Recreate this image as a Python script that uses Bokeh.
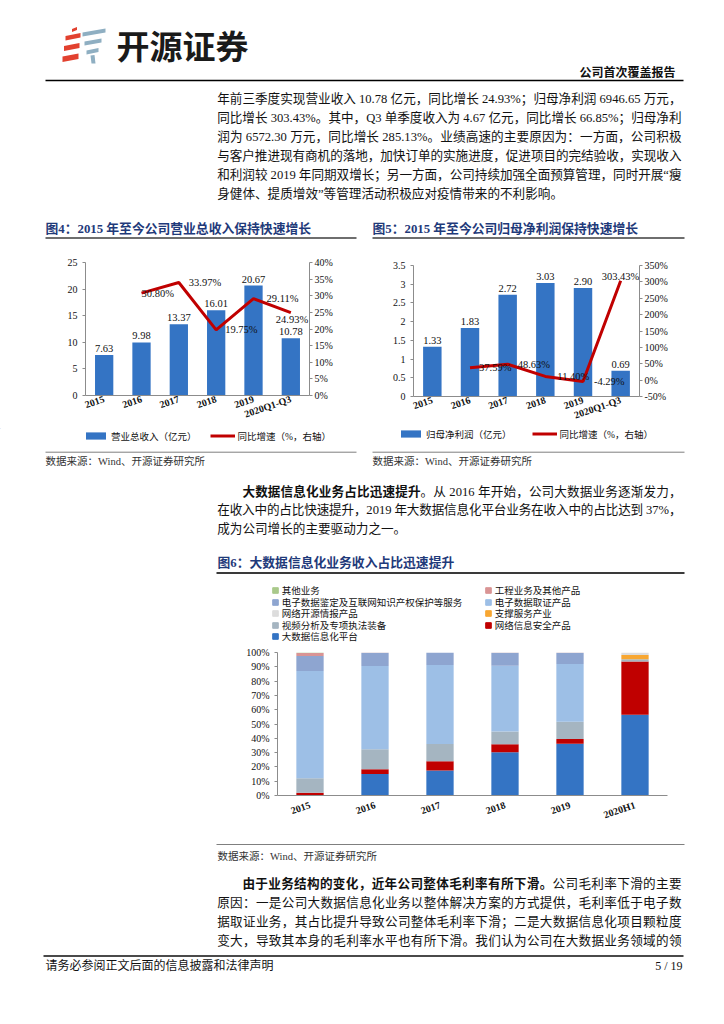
from bokeh.plotting import figure
from bokeh.models import (Range1d, FactorRange, LinearAxis, ColumnDataSource, LabelSet,
                          Legend, LegendItem, FixedTicker, PrintfTickFormatter)
from bokeh.layouts import column, row
from bokeh.embed import file_html
from bokeh.resources import INLINE
from bokeh.core.properties import value

# ================= DATA =================
years_a = ["2015", "2016", "2017", "2018", "2019", "2020Q1-Q3"]
revenue = [7.63, 9.98, 13.37, 16.01, 20.67, 10.78]          # 亿元
revenue_yoy = [30.80, 33.97, 19.75, 29.11, 24.93]           # %, 2016 onwards
profit = [1.33, 1.83, 2.72, 3.03, 2.90, 0.69]               # 亿元
profit_yoy = [37.59, 48.63, 11.40, -4.29, 303.43]           # %, 2016 onwards

rev_left_ticks = [0, 5, 10, 15, 20, 25]
rev_right_ticks = [0, 5, 10, 15, 20, 25, 30, 35, 40]
prof_left_ticks = [0, 0.5, 1, 1.5, 2, 2.5, 3, 3.5]
prof_left_labels = ["0", "0.5", "1", "1.5", "2", "2.5", "3", "3.5"]
prof_right_ticks = [-50, 0, 50, 100, 150, 200, 250, 300, 350]

years_b = ["2015", "2016", "2017", "2018", "2019", "2020H1"]
seg_names = ["大数据信息化平台", "网络信息安全产品", "视频分析及专项执法装备", "支撑服务产业",
             "网络开源情报产品", "电子数据取证产品", "电子数据鉴定及互联网知识产权保护等服务",
             "工程业务及其他产品", "其他业务"]            # stacked bottom -> top
seg_big_data = [0.0, 15.1, 17.4, 30.2, 36.2, 56.5]
seg_security = [2.0, 3.3, 6.6, 5.6, 3.3, 37.2]
seg_video = [10.0, 13.9, 12.0, 8.9, 12.1, 1.5]
seg_support = [0.0, 0.0, 0.0, 0.0, 0.0, 3.0]
seg_osint = [0.0, 0.0, 0.0, 0.0, 0.0, 1.8]
seg_forensic = [75.1, 58.2, 55.2, 46.0, 40.4, 0.0]
seg_appraisal = [10.5, 9.3, 8.8, 9.1, 7.8, 0.0]
seg_engineering = [2.0, 0.2, 0.0, 0.2, 0.2, 0.0]
seg_other = [0.4, 0.0, 0.0, 0.0, 0.0, 0.0]
seg_values = [seg_big_data, seg_security, seg_video, seg_support, seg_osint,
              seg_forensic, seg_appraisal, seg_engineering, seg_other]
share_ticks = [0, 10, 20, 30, 40, 50, 60, 70, 80, 90, 100]

# ================= STYLE =================
FONT = "Liberation Serif, Noto Sans CJK SC"
SERIF = "Liberation Serif"
BLUE = "#3474C4"
RED = "#C00000"
AXIS = "#8C8C8C"
INK = "#111111"
NAVY = "#1F3A7A"
seg_colors = ["#3474C4", "#C00000", "#A5B5C1", "#F8A732", "#DDDDDD",
              "#9DBFE6", "#8EA5D0", "#D99494", "#A9C98B"]

PAGE_W = 724
BODY = 12.6
LX0, LX1 = 216.7, 681.0

LATIN_W = {' ': .25, '.': .25, '%': .833, 'Q': .722, 'W': .944, 'i': .278, 'n': .5,
           'd': .5, '-': .333, '/': .278, '\u201c': .444, '\u201d': .444}


def is_latin(c):
    return ord(c) < 0x2E80


def tokens(segs, f):
    out = []
    for text, bold in segs:
        run = ""
        for c in text:
            if is_latin(c) and c != " ":
                run += c
                continue
            if run:
                out.append((run, bold, sum(LATIN_W.get(ch, .5) for ch in run) * f, True))
                run = ""
            if c == " ":
                out.append((" ", bold, .25 * f, False))
            else:
                out.append((c, bold, f, True))
        if run:
            out.append((run, bold, sum(LATIN_W.get(ch, .5) for ch in run) * f, True))
    return out


def place(segs, x0, x1, y, f=BODY, just=True):
    toks = tokens(segs, f)
    nat = sum(t[2] for t in toks)
    extra = (x1 - x0 - nat) / (len(toks) - 1) if just and len(toks) > 1 else 0
    x = x0
    res = []
    for txt, bold, w, draw in toks:
        if draw:
            res.append((x, y, txt, bold))
        x += w + extra
    return res


def no_align(p):
    if "frame_align" in p.properties():
        p.frame_align = False
    return p


def draw_text(p, items, size, color=INK):
    for b in (False, True):
        sel = [it for it in items if it[3] == b]
        if sel:
            p.text(x=[s[0] for s in sel], y=[s[1] for s in sel], text=[s[2] for s in sel],
                   text_font=value(FONT), text_font_size=size, text_color=color,
                   text_align="left", text_baseline="middle",
                   text_font_style="bold" if b else "normal")


def textfig(y0, y1):
    p = figure(width=PAGE_W, height=int(round(y1 - y0)), x_range=Range1d(0, PAGE_W),
               y_range=Range1d(y1, y0), x_axis_type=None, y_axis_type=None,
               toolbar_location=None, output_backend="svg", min_border=0)
    p.outline_line_color = None
    return no_align(p)


def label(p, x, y, s, size, color=INK, align="left", bold=False, font=FONT):
    p.text(x=[x], y=[y], text=[s], text_font=value(font), text_font_size=size,
           text_color=color, text_align=align, text_baseline="middle",
           text_font_style="bold" if bold else "normal")


def style_axis(ax, tick_out=3, standoff=5, bold=False):
    ax.axis_line_color = AXIS
    ax.major_tick_line_color = AXIS if tick_out else None
    ax.minor_tick_line_color = None
    ax.major_tick_in = 0
    ax.major_tick_out = tick_out
    ax.major_label_standoff = standoff
    ax.major_label_text_font = SERIF
    ax.major_label_text_font_size = "10px"
    ax.major_label_text_color = INK
    ax.major_label_text_font_style = "bold" if bold else "normal"


def make_legend(items, loc, orientation, gw, gh, lh, standoff, spacing):
    return Legend(items=items, orientation=orientation, location=loc, glyph_width=gw,
                  glyph_height=gh, label_height=lh, label_width=10, label_standoff=standoff,
                  spacing=spacing, padding=0, margin=0, border_line_color=None,
                  background_fill_alpha=0, label_text_font=FONT,
                  label_text_font_size="9.5px", label_text_color=INK)


# ================= BLOCK A: header + paragraph + fig titles (y 0..245) =================
pA = textfig(0, 245)
pA.patches(
    xs=[[65, 80, 80, 65], [63.5, 79, 79, 63.5], [62, 78, 78, 62], [71.5, 76.5, 76.5, 71.5],
        [82, 105, 105, 82], [84, 101, 101, 84], [86, 98, 98, 86], [90, 94, 95, 91]],
    ys=[[35.5, 32.5, 37, 40], [45.5, 42.5, 47.5, 50.5], [56, 53, 58.5, 61.5], [28.5, 26.5, 29.5, 31.5],
        [32, 28, 32, 36], [41, 38, 42, 45], [50, 47.5, 51.5, 54], [55, 54.5, 63, 63]],
    fill_color=["#E2412F"] * 4 + ["#8FAFC2"] * 4, line_color=None)
label(pA, 116, 44, "开源证券", "33px", color="#1A1A1A", bold=True, font="Noto Sans CJK SC")
label(pA, 675, 72.5, "公司首次覆盖报告", "12px", align="right", bold=True)
pA.segment(x0=[45], y0=[80], x1=[683], y1=[80], line_color="#000000", line_width=1.5)

para1 = [
    "年前三季度实现营业收入 10.78 亿元，同比增长 24.93%；归母净利润 6946.65 万元，",
    "同比增长 303.43%。其中，Q3 单季度收入为 4.67 亿元，同比增长 66.85%；归母净利",
    "润为 6572.30 万元，同比增长 285.13%。业绩高速的主要原因为：一方面，公司积极",
    "与客户推进现有商机的落地，加快订单的实施进度，促进项目的完结验收，实现收入",
    "和利润较 2019 年同期双增长；另一方面，公司持续加强全面预算管理，同时开展\u201c瘦",
    "身健体、提质增效\u201d等管理活动积极应对疫情带来的不利影响。",
]
items = []
for i, s in enumerate(para1):
    items += place([(s, False)], LX0, LX1, 98 + 19 * i, just=(i < len(para1) - 1))
draw_text(pA, items, f"{BODY}px")

label(pA, 45, 228, "图4：2015 年至今公司营业总收入保持快速增长", "12.8px", color=NAVY, bold=True)
label(pA, 372, 228, "图5：2015 年至今公司归母净利润保持快速增长", "12.8px", color=NAVY, bold=True)
pA.segment(x0=[45, 372], y0=[237.5, 237.5], x1=[356, 684], y1=[237.5, 237.5],
           line_color="#6E6E6E", line_width=2)


# ================= BLOCK B: combo charts (y 245..428) =================
def combo(width, borders, bars, yoy, ly, lticks, ry, rticks, dx, dy, left_labels=None):
    l, r, t, b = borders
    p = figure(width=width, height=183, x_range=FactorRange(*years_a), y_range=Range1d(*ly),
               output_backend="svg", toolbar_location=None,
               min_border_left=l, min_border_right=r, min_border_top=t, min_border_bottom=b)
    no_align(p)
    p.outline_line_color = None
    p.grid.visible = False
    p.extra_y_ranges = {"yoy": Range1d(*ry)}

    bsrc = ColumnDataSource(dict(x=years_a, v=bars, lbl=[f"{v:.2f}" for v in bars]))
    lsrc = ColumnDataSource(dict(x=years_a[1:], v=yoy, lbl=[f"{v:.2f}%" for v in yoy], dx=dx, dy=dy))
    p.vbar(x="x", top="v", width=0.49, source=bsrc, fill_color=BLUE, line_color=None)
    p.line(x="x", y="v", source=lsrc, y_range_name="yoy", line_color=RED, line_width=3)

    p.add_layout(LabelSet(x="x", y="v", text="lbl", source=bsrc, text_align="center",
                          text_baseline="bottom", y_offset=3, text_font=value(SERIF),
                          text_font_size="10.5px", text_color=INK))
    p.add_layout(LabelSet(x="x", y="v", text="lbl", source=lsrc, y_range_name="yoy",
                          x_offset="dx", y_offset="dy", text_align="left", text_baseline="middle",
                          text_font=value(SERIF), text_font_size="10.5px", text_color=INK))

    ly_ax = p.yaxis[0]
    ly_ax.ticker = FixedTicker(ticks=lticks)
    if left_labels:
        ly_ax.major_label_overrides = {t_: s for t_, s in zip(lticks, left_labels)}
    style_axis(ly_ax, tick_out=3, standoff=5)

    ra = LinearAxis(y_range_name="yoy", ticker=FixedTicker(ticks=rticks),
                    formatter=PrintfTickFormatter(format="%d%%"))
    style_axis(ra, tick_out=3, standoff=2)
    p.add_layout(ra, "right")

    xa = p.xaxis[0]
    style_axis(xa, tick_out=0, standoff=3, bold=True)
    xa.major_label_orientation = 0.33
    return p


p4 = combo(365, (85, 56, 17, 33), revenue, revenue_yoy, (0, 25), rev_left_ticks,
           (0, 40), rev_right_ticks, [0, 10, 9, 13, -15], [0, 0, 0, 0, -7])
p5 = combo(359, (48, 85, 20, 30), profit, profit_yoy, (0, 3.5), prof_left_ticks,
           (-50, 350), prof_right_ticks, [9, 10, 12, 11, -19], [0, 0, 0, 0, 4],
           left_labels=prof_left_labels)

# ================= BLOCK C: legends + sources + paragraph + fig6 title + fig6 legend (428..645) =================
C0, C1 = 428, 645
pC = textfig(C0, C1)
# legend swatches (one point each, placed outside the visible canvas)
px_bar = pC.vbar(x=[-50], top=[-60], bottom=[-70], width=1, fill_color=BLUE, line_color=None)
px_line = pC.line(x=[-60, -50], y=[-60, -60], line_color=RED, line_width=3)
px_bar2 = pC.vbar(x=[-50], top=[-60], bottom=[-70], width=1, fill_color=BLUE, line_color=None)
px_line2 = pC.line(x=[-60, -50], y=[-60, -60], line_color=RED, line_width=3)
pC.add_layout(make_legend([LegendItem(label="营业总收入（亿元）", renderers=[px_bar]),
                           LegendItem(label="同比增速（%，右轴）", renderers=[px_line])],
                          (83, C1 - 442.5), "horizontal", 25, 9, 11, 3, 13))
pC.add_layout(make_legend([LegendItem(label="归母净利润（亿元）", renderers=[px_bar2]),
                           LegendItem(label="同比增速（%，右轴）", renderers=[px_line2])],
                          (398, C1 - 440.8), "horizontal", 25, 9, 11, 3, 20))

pC.segment(x0=[45, 372], y0=[451.7, 451.7], x1=[356, 684], y1=[451.7, 451.7],
           line_color="#7F7F7F", line_width=1)
label(pC, 45, 461, "数据来源：Wind、开源证券研究所", "10.5px", color="#333333")
label(pC, 372, 461, "数据来源：Wind、开源证券研究所", "10.5px", color="#333333")
items = []
items += place([("大数据信息化业务占比迅速提升", True), ("。从 2016 年开始，公司大数据业务逐渐发力，", False)],
               LX0 + 2 * BODY, LX1, 491)
items += place([("在收入中的占比快速提升，2019 年大数据信息化平台业务在收入中的占比达到 37%，", False)],
               LX0, LX1, 509.5)
items += place([("成为公司增长的主要驱动力之一。", False)], LX0, LX1, 528, just=False)
draw_text(pC, items, f"{BODY}px")
label(pC, 217, 562, "图6：大数据信息化业务收入占比迅速提升", "12.8px", color=NAVY, bold=True)
pC.segment(x0=[216], y0=[572.5], x1=[684], y1=[572.5], line_color="#3A3A3A", line_width=2)

proxies = {}
for name, c in zip(seg_names, seg_colors):
    proxies[name] = pC.scatter(x=[-50], y=[-50], marker="square", fill_color=c, line_color=c)
col1 = ["其他业务", "电子数据鉴定及互联网知识产权保护等服务", "网络开源情报产品",
        "视频分析及专项执法装备", "大数据信息化平台"]
col2 = ["工程业务及其他产品", "电子数据取证产品", "支撑服务产业", "网络信息安全产品"]
row_centres = [590, 601.5, 613, 624.5, 636]
for names, x_left in ((col1, 267.7), (col2, 480.8)):
    for n, yc in zip(names, row_centres):
        pC.add_layout(make_legend([LegendItem(label=n, renderers=[proxies[n]])],
                                  (x_left, C1 - (yc + 7)), "vertical", 14, 14, 11, 0, 0))

# ================= BLOCK D: stacked share chart (645..838) =================
p6 = figure(width=PAGE_W, height=193, x_range=FactorRange(*years_b), y_range=Range1d(0, 100),
            output_backend="svg", toolbar_location=None,
            min_border_left=277, min_border_right=57, min_border_top=7, min_border_bottom=43)
no_align(p6)
p6.outline_line_color = None
p6.grid.visible = False
keys = [f"s{i}" for i in range(len(seg_names))]
data6 = {"x": years_b}
for k, v in zip(keys, seg_values):
    data6[k] = v
src6 = ColumnDataSource(data6)
p6.vbar_stack(stackers=keys, x="x", width=0.42, source=src6, fill_color=seg_colors, line_color=None)

ya6 = p6.yaxis[0]
ya6.ticker = FixedTicker(ticks=share_ticks)
ya6.formatter = PrintfTickFormatter(format="%d%%")
style_axis(ya6, tick_out=3, standoff=5)
xa6 = p6.xaxis[0]
style_axis(xa6, tick_out=0, standoff=9, bold=True)
xa6.major_label_orientation = 0.33

# ================= BLOCK E: source + paragraph + footer (838..1016) =================
pE = textfig(838, 1016)
pE.segment(x0=[216], y0=[844], x1=[684], y1=[844], line_color="#7F7F7F", line_width=1)
label(pE, 217, 856, "数据来源：Wind、开源证券研究所", "10.5px", color="#333333")
items = []
items += place([("由于业务结构的变化，近年公司整体毛利率有所下滑。", True), ("公司毛利率下滑的主要", False)],
               LX0 + 2 * BODY, LX1, 883)
items += place([("原因：一是公司大数据信息化业务以整体解决方案的方式提供，毛利率低于电子数", False)],
               LX0, LX1, 902)
items += place([("据取证业务，其占比提升导致公司整体毛利率下滑；二是大数据信息化项目颗粒度", False)],
               LX0, LX1, 921)
items += place([("变大，导致其本身的毛利率水平也有所下滑。我们认为公司在大数据业务领域的领", False)],
               LX0, LX1, 940)
draw_text(pE, items, f"{BODY}px")
pE.segment(x0=[43], y0=[955.5], x1=[683], y1=[955.5], line_color="#4A4A4A", line_width=2)
label(pE, 45, 965, "请务必参阅正文后面的信息披露和法律声明", "12px")
label(pE, 682, 965, "5 / 19", "12px", align="right")

layout = column(column(pA), row(column(p4), column(p5), spacing=0), column(pC),
                column(p6), column(pE), spacing=0)
open("out.html", "w").write(file_html(layout, INLINE, title="开源证券"))
